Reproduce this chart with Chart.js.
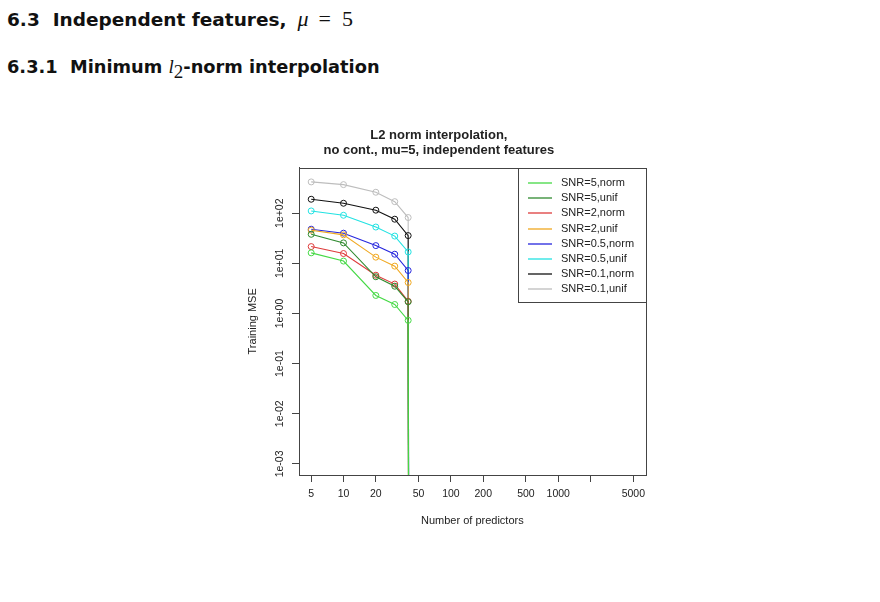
<!DOCTYPE html>
<html>
<head>
<meta charset="utf-8">
<script src="https://cdn.jsdelivr.net/npm/chart.js@4.4.0/dist/chart.umd.min.js"></script>
<style>
  body { margin: 0; background: #fff; width: 880px; height: 602px; position: relative; overflow: hidden; }
  .h { position: absolute; left: 7px; font-family: "DejaVu Sans", sans-serif; font-weight: bold; color: #111; white-space: pre; line-height: 1; }
  .m { font-family: "Liberation Serif", "DejaVu Serif", serif; font-weight: normal; line-height: 1; font-size: 22px; }
  .i { font-style: italic; }
  #h1 { top: 8px; font-size: 18.5px; }
  #h2 { top: 57px; font-size: 17.8px; }
  #h2 .m { font-size: 19px; }
  #h2 sub { font-size: 12px; line-height: 1; }
  #mu { margin-left: 11px; }
  #eq { margin: 0 11px 0 10px; }
</style>
</head>
<body>
<div class="h" id="h1">6.3  Independent features,<span class="m i" id="mu">μ</span><span class="m" id="eq">=</span><span class="m">5</span></div>
<div class="h" id="h2">6.3.1  Minimum <span class="m i">l</span><sub class="m">2</sub>-norm interpolation</div>
<canvas id="expenseChart" width="480" height="440" style="position:absolute;left:232px;top:110px;"></canvas>
<script>
// number of predictors (last one is where the error drops to ~0)
const predictors = [5, 10, 20, 30, 40, 41];

// training MSE per setting
const snr5norm   = [16.2, 11.1, 2.29, 1.51, 0.73, 1e-12];
const snr5unif   = [38, 25.6, 5.4, 3.5, 1.71, 1e-12];
const snr2norm   = [21.6, 15.7, 5.8, 3.86, 1.75, 1e-12];
const snr2unif   = [45.8, 37, 13.3, 8.8, 4.15, 1e-12];
const snr05norm  = [48, 40, 22.6, 15.2, 7.2, 1e-12];
const snr05unif  = [111, 91, 53, 35, 16.9, 1e-12];
const snr01norm  = [190, 158, 115, 76, 35.8, 1e-12];
const snr01unif  = [421, 372, 262, 170, 82, 1e-12];

const seriesLabels = ["SNR=5,norm", "SNR=5,unif", "SNR=2,norm", "SNR=2,unif",
  "SNR=0.5,norm", "SNR=0.5,unif", "SNR=0.1,norm", "SNR=0.1,unif"];
const seriesValues = [snr5norm, snr5unif, snr2norm, snr2unif, snr05norm, snr05unif, snr01norm, snr01unif];
const seriesColors = ["#45d945", "#2f8a2f", "#de3b3b", "#f0a820", "#2626dd", "#22e2e2", "#111111", "#bdbdbd"];

const xTicks = [5, 10, 20, 50, 100, 200, 500, 1000, 2000, 5000];
const xTickLabels = ["5", "10", "20", "50", "100", "200", "500", "1000", "", "5000"];
const yTicks = [1e-3, 1e-2, 1e-1, 1, 10, 100];
const yTickLabels = ["1e-03", "1e-02", "1e-01", "1e+00", "1e+01", "1e+02"];

const axisColor = "#444";
const textColor = "#222";
const fontName = "'Liberation Sans', Arial, sans-serif";

// box around plot + rotated y labels + legend inside the plot (R style)
const rStyle = {
  id: "rStyle",
  afterDraw(chart) {
    const ctx = chart.ctx;
    const a = chart.chartArea;
    const ys = chart.scales.y;
    ctx.save();
    ctx.strokeStyle = axisColor;
    ctx.lineWidth = 1;
    ctx.strokeRect(Math.round(a.left) + 0.5, Math.round(a.top) + 0.5,
      Math.round(a.right - a.left), Math.round(a.bottom - a.top));

    // y tick labels, vertical like R's default
    ctx.fillStyle = textColor;
    ctx.font = "10.5px " + fontName;
    ctx.textAlign = "center";
    ctx.textBaseline = "middle";
    yTicks.forEach((v, i) => {
      ctx.save();
      ctx.translate(a.left - 19, ys.getPixelForValue(v));
      ctx.rotate(-Math.PI / 2);
      ctx.fillText(yTickLabels[i], 0, 0);
      ctx.restore();
    });

    // legend
    const lw = 128, lh = 134;
    const lx = Math.round(a.right - lw), ly = Math.round(a.top);
    ctx.fillStyle = "#fff";
    ctx.fillRect(lx, ly, lw, lh);
    ctx.strokeStyle = axisColor;
    ctx.strokeRect(lx + 0.5, ly + 0.5, lw, lh);
    ctx.textAlign = "left";
    ctx.font = "11px " + fontName;
    chart.data.datasets.forEach((ds, i) => {
      const yy = Math.round(ly + 15 + i * 15.2);
      ctx.strokeStyle = ds.borderColor;
      ctx.lineWidth = 1.3;
      ctx.beginPath();
      ctx.moveTo(lx + 10, yy);
      ctx.lineTo(lx + 34, yy);
      ctx.stroke();
      ctx.fillStyle = textColor;
      ctx.fillText(ds.label, lx + 43, yy);
    });
    ctx.restore();
  }
};

const renderChart = () => {
  const ctx = document.getElementById("expenseChart").getContext("2d");
  const datasets = seriesLabels.map((label, i) => ({
    label: label,
    data: predictors.map((p, j) => ({ x: p, y: seriesValues[i][j] })),
    borderColor: seriesColors[i],
    backgroundColor: "rgba(0,0,0,0)",
    borderWidth: 1.1,
    pointRadius: 3,
    pointBorderWidth: 1,
    pointBackgroundColor: "rgba(0,0,0,0)",
    pointBorderColor: seriesColors[i],
    tension: 0
  }));

  new Chart(ctx, {
    type: "line",
    data: { datasets: datasets },
    options: {
      responsive: false,
      animation: false,
      devicePixelRatio: 1,
      layout: { padding: { left: 0, right: 66.3, top: 0, bottom: 0 } },
      plugins: {
        legend: { display: false },
        tooltip: { enabled: false },
        title: {
          display: true,
          text: ["L2 norm interpolation,", "no cont., mu=5, independent features"],
          color: textColor,
          font: { family: fontName, size: 13, weight: "bold", lineHeight: 1.15 },
          padding: { top: 17.5, bottom: 10.3 }
        }
      },
      scales: {
        x: {
          type: "logarithmic",
          min: 3.85,
          max: 6520,
          afterBuildTicks: (s) => { s.ticks = xTicks.map(v => ({ value: v })); },
          afterFit: (s) => { s.height = 75; },
          ticks: {
            autoSkip: false,
            maxRotation: 0,
            padding: 6,
            color: textColor,
            font: { family: fontName, size: 10.5 },
            callback: (v) => {
              const k = xTicks.indexOf(v);
              return k >= 0 ? xTickLabels[k] : "";
            }
          },
          grid: { drawOnChartArea: false, drawTicks: true, tickLength: 7, color: axisColor },
          border: { display: true, color: axisColor },
          title: {
            display: true,
            text: "Number of predictors",
            color: textColor,
            font: { family: fontName, size: 11 },
            padding: { top: 0, bottom: 22.5 }
          }
        },
        y: {
          type: "logarithmic",
          min: 6.0e-4,
          max: 809,
          afterBuildTicks: (s) => { s.ticks = yTicks.map(v => ({ value: v })); },
          afterFit: (s) => { s.width = 67; },
          ticks: { display: false },
          grid: { drawOnChartArea: false, drawTicks: true, tickLength: 7, color: axisColor },
          border: { display: true, color: axisColor },
          title: {
            display: true,
            text: "Training MSE",
            color: textColor,
            font: { family: fontName, size: 11 },
            padding: { top: 14.5, bottom: 0 }
          }
        }
      }
    },
    plugins: [rStyle]
  });
};
window.onload = renderChart();
</script>
</body>
</html>
